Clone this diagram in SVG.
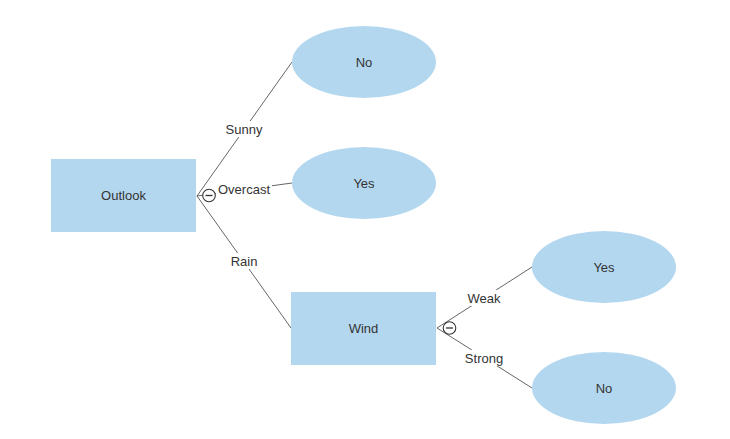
<svg xmlns="http://www.w3.org/2000/svg" width="730" height="439" viewBox="0 0 730 439">
  <style>
    .box { fill: #b3d7ef; }
    .edge { stroke: #555; stroke-width: 0.9; fill: none; }
    .t { font-family: "Liberation Sans", Arial, sans-serif; font-size: 13px; fill: #333; text-anchor: middle; dominant-baseline: central; }
    .lbl { fill: #fff; }
    .toggle circle { fill: #fff; stroke: #333; stroke-width: 1.1; }
    .toggle line { stroke: #333; stroke-width: 1.3; }
  </style>
  <rect width="730" height="439" fill="#fff"/>

  <g id="connectors">
    <line class="edge" x1="197" y1="196" x2="292" y2="62"/>
    <line class="edge" x1="197" y1="196" x2="292" y2="183"/>
    <line class="edge" x1="197" y1="196" x2="291" y2="328"/>
    <line class="edge" x1="437" y1="328" x2="532" y2="267"/>
    <line class="edge" x1="437" y1="328" x2="532" y2="388"/>
    <rect class="lbl" x="223" y="121" width="42" height="16"/>
    <text class="t" x="244" y="129">Sunny</text>
    <rect class="lbl" x="216" y="181" width="56" height="16"/>
    <text class="t" x="244" y="189">Overcast</text>
    <rect class="lbl" x="228" y="253" width="32" height="16"/>
    <text class="t" x="244" y="261">Rain</text>
    <rect class="lbl" x="466" y="290" width="36" height="16"/>
    <text class="t" x="484" y="298">Weak</text>
    <rect class="lbl" x="462" y="350" width="44" height="16"/>
    <text class="t" x="484" y="358">Strong</text>
    <g class="toggle">
      <circle cx="209" cy="195.5" r="6.3"/>
      <line x1="205.5" y1="195.5" x2="212.5" y2="195.5"/>
    </g>
    <g class="toggle">
      <circle cx="449.5" cy="328" r="6.3"/>
      <line x1="446" y1="328" x2="453" y2="328"/>
    </g>
  </g>

  <g id="outlook">
    <rect class="box" x="51" y="159" width="145" height="73"/>
    <text class="t" x="123.5" y="195.5">Outlook</text>
  </g>
  <g id="sunny-no">
    <ellipse class="box" cx="364" cy="62" rx="72" ry="36"/>
    <text class="t" x="364" y="62">No</text>
  </g>
  <g id="overcast-yes">
    <ellipse class="box" cx="364" cy="183" rx="72" ry="36"/>
    <text class="t" x="364" y="183">Yes</text>
  </g>
  <g id="wind">
    <rect class="box" x="291" y="292" width="145" height="73"/>
    <text class="t" x="363.5" y="328.5">Wind</text>
  </g>
  <g id="weak-yes">
    <ellipse class="box" cx="604" cy="267" rx="72" ry="36"/>
    <text class="t" x="604" y="267">Yes</text>
  </g>
  <g id="strong-no">
    <ellipse class="box" cx="604" cy="388" rx="72" ry="36"/>
    <text class="t" x="604" y="388">No</text>
  </g>
</svg>
